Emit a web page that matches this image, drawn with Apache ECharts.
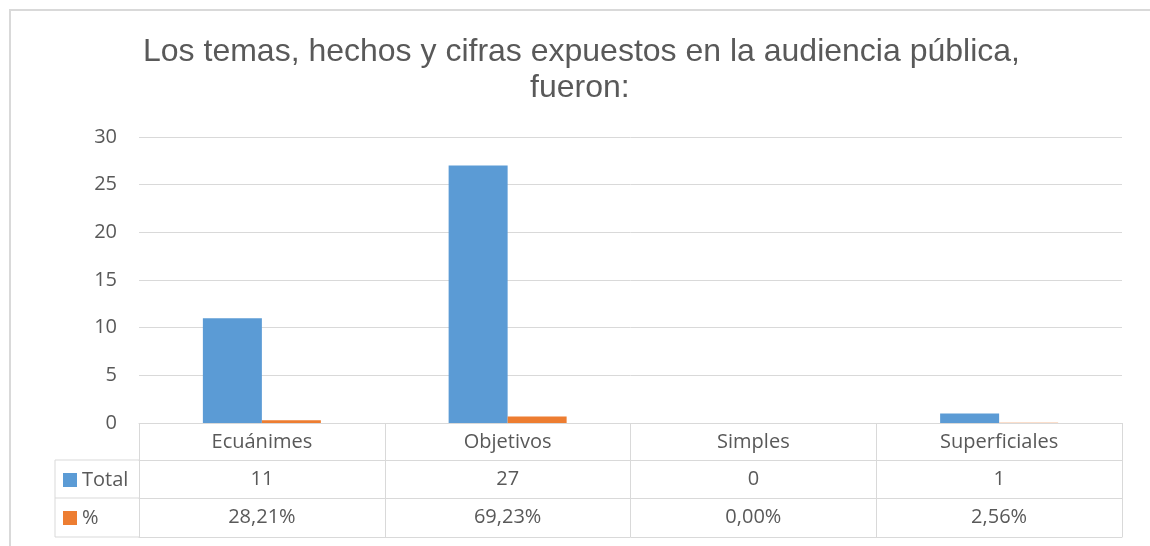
<!DOCTYPE html>
<html>
<head>
<meta charset="utf-8">
<script src="https://cdn.jsdelivr.net/npm/echarts@6/dist/echarts.min.js"></script>
<style>
  html, body { margin: 0; padding: 0; background: #fff; }
  #main { width: 1150px; height: 546px; }
</style>
</head>
<body>
<div id="main"></div>
<script>
// datos del gráfico
var categories = ['Ecuánimes', 'Objetivos', 'Simples', 'Superficiales'];
var totalValues = [11, 27, 0, 1];
var pctValues = [0.2821, 0.6923, 0, 0.0256];
var yMin = 0, yMax = 30, yStep = 5;

var gris = '#D9D9D9';
var texto = '#595959';
var fuente = 'Open Sans';

function fmtPct(v) {
    return (v * 100).toFixed(2).replace('.', ',') + '%';
}

// eje de la tabla (filas debajo del gráfico)
function filaTabla(offset, formatter, conTicks) {
    return {
        type: 'category',
        data: categories,
        position: 'bottom',
        offset: offset,
        axisLine: { show: true, lineStyle: { color: gris, width: 1 } },
        axisTick: { show: conTicks, length: 114, interval: 0, lineStyle: { color: gris } },
        axisLabel: {
            show: !!formatter,
            interval: 0,
            margin: 9,
            color: texto,
            fontFamily: fuente,
            fontSize: 20,
            formatter: formatter
        },
        splitLine: { show: false }
    };
}

var chart = echarts.init(document.getElementById('main'));

var option = {
    animation: false,
    backgroundColor: '#fff',
    title: [
        {
            text: 'Los temas, hechos y cifras expuestos en la audiencia pública,',
            left: 138, top: 31,
            textStyle: { fontFamily: 'Liberation Sans', fontSize: 32, fontWeight: 'normal', color: texto }
        },
        {
            text: 'fueron:',
            left: 525, top: 67,
            textStyle: { fontFamily: 'Liberation Sans', fontSize: 32, fontWeight: 'normal', color: texto }
        }
    ],
    legend: {
        orient: 'vertical',
        left: 58, top: 465,
        itemWidth: 14, itemHeight: 14, itemGap: 18,
        icon: 'rect',
        data: ['Total', '%'],
        textStyle: { fontFamily: fuente, fontSize: 20, color: texto },
        selectedMode: false
    },
    grid: { left: 139, right: 28, top: 137, bottom: 123 },
    xAxis: [
        filaTabla(0, function (v) { return v; }, true),
        filaTabla(37, function (v, i) { return String(totalValues[i]); }, false),
        filaTabla(75, function (v, i) { return fmtPct(pctValues[i]); }, false),
        filaTabla(114, null, false)
    ],
    yAxis: {
        type: 'value',
        min: yMin, max: yMax, interval: yStep,
        axisLine: { show: false },
        axisTick: { show: false },
        axisLabel: { margin: 22, color: texto, fontFamily: fuente, fontSize: 20 },
        splitLine: { lineStyle: { color: gris, width: 1 } }
    },
    series: [
        {
            name: 'Total', type: 'bar', data: totalValues,
            barWidth: 59, barGap: '0%',
            itemStyle: { color: '#5B9BD5' }
        },
        {
            name: '%', type: 'bar', data: pctValues,
            barWidth: 59,
            itemStyle: { color: '#ED7D31' }
        }
    ],
    graphic: [
        // borde exterior del área del gráfico
        { type: 'polyline', shape: { points: [[10, 546], [10, 10], [1150, 10]] }, style: { stroke: gris, fill: null, lineWidth: 2 } },
        // columna de la leyenda en la tabla
        { type: 'polyline', shape: { points: [[139, 460], [55, 460], [55, 537], [139, 537]] }, style: { stroke: gris, fill: null, lineWidth: 1 } },
        { type: 'line', shape: { x1: 55, y1: 498, x2: 139, y2: 498 }, style: { stroke: gris, lineWidth: 1 } }
    ]
};

chart.setOption(option);
</script>
</body>
</html>
